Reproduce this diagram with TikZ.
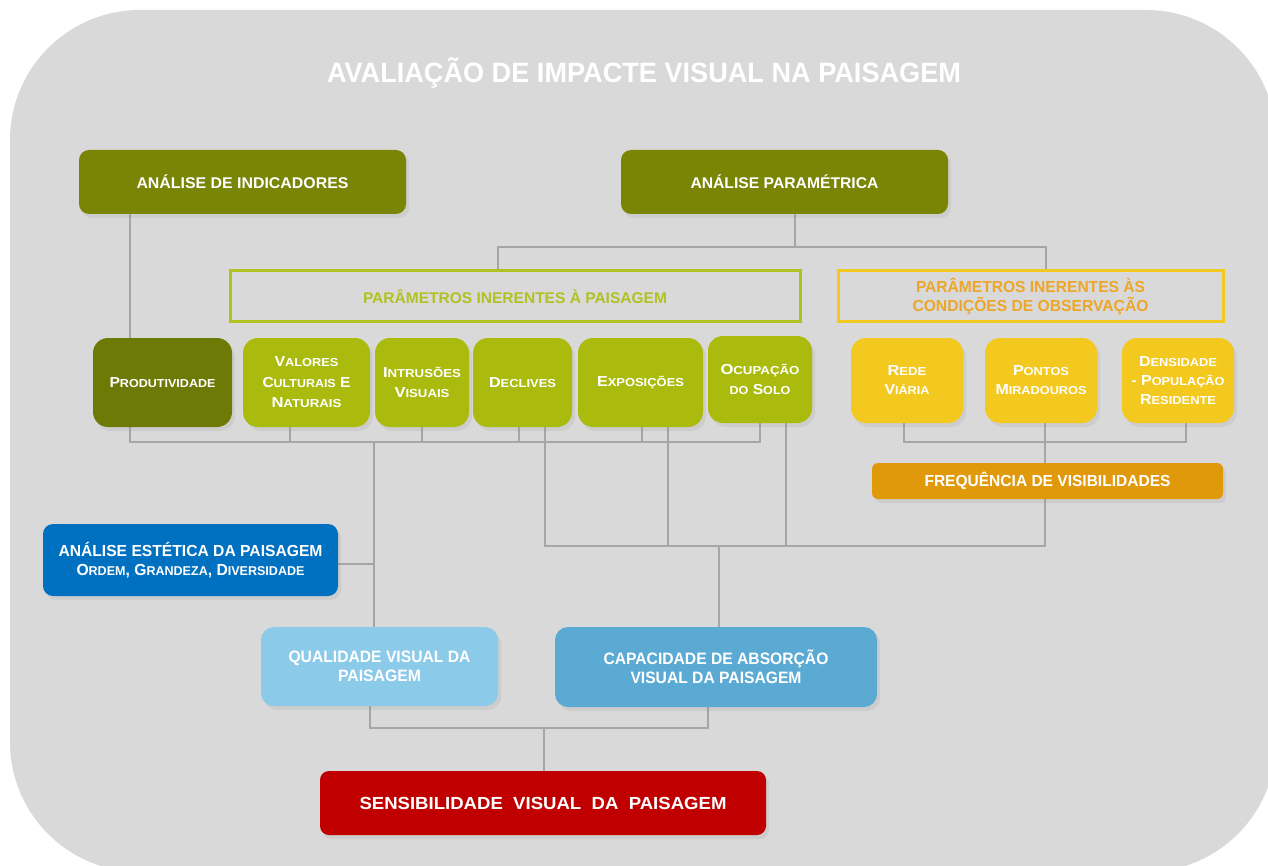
\documentclass[tikz,border=0pt]{standalone}
\usepackage{fontspec}
\setmainfont{Liberation Sans}
\usetikzlibrary{shadows}
\pgfdeclarelayer{bg}
\pgfsetlayers{bg,main}

\definecolor{cBack}{HTML}{D9D9D9}
\definecolor{cOlive}{HTML}{7A8506}
\definecolor{cDarkOlive}{HTML}{6E7A06}
\definecolor{cLime}{HTML}{AABB0D}
\definecolor{cLimeLine}{HTML}{B0C222}
\definecolor{cSun}{HTML}{F3C81F}
\definecolor{cSunText}{HTML}{ECA62A}
\definecolor{cAmber}{HTML}{E0990A}
\definecolor{cRoyal}{HTML}{0070C0}
\definecolor{cSky}{HTML}{8BCAE8}
\definecolor{cSteel}{HTML}{5BAAD3}
\definecolor{cCrimson}{HTML}{C00000}
\definecolor{cWire}{HTML}{A6A6A6}

% stretch or squeeze one line of text horizontally to a given width (pt)
\newsavebox\fitbox
\newcommand\fitto[2]{\sbox\fitbox{#2}\pgfmathsetmacro\fitratio{#1/\wd\fitbox}\scalebox{\fitratio}[1]{\usebox\fitbox}}
% small capitals imitation
\newcommand\smc[1]{\scalebox{0.8}{#1}}

\tikzset{
  base/.style={inner sep=0pt, align=center, text=white},
  shade/.style={drop shadow={opacity=0.13, shadow xshift=3pt, shadow yshift=-4pt}},
  topbox/.style={base, shade, fill=cOlive, rounded corners=10pt,
    font=\fontsize{15.5}{19}\selectfont\bfseries},
  framebox/.style={base, line width=3pt, font=\fontsize{15.5}{19}\selectfont\bfseries},
  rowbox/.style={base, shade, rounded corners=15pt,
    font=\fontsize{14.5}{20.5}\selectfont\bfseries},
  greenbox/.style={rowbox, fill=cLime},
  yellowbox/.style={rowbox, fill=cSun},
  wire/.style={draw=cWire, line width=2.6pt},
}

\begin{document}
\begin{tikzpicture}[x=1pt,y=-1pt]
\useasboundingbox (0,0) rectangle (1268,866);

\begin{pgfonlayer}{bg}
  \clip (0,0) rectangle (1268,866);
  \fill[cBack, rounded corners=130pt] (10,10) rectangle (1276,872);
\end{pgfonlayer}

% title
\node[base, font=\fontsize{28}{32}\selectfont\bfseries] (title) at (644,73)
  {\fitto{634}{AVALIAÇÃO DE IMPACTE VISUAL NA PAISAGEM}};

% top level analyses
\node[topbox, minimum width=327pt, minimum height=64pt] (A) at (242.5,182)
  {\fitto{212}{ANÁLISE DE INDICADORES}};
\node[topbox, minimum width=327pt, minimum height=64pt] (B) at (784.5,182)
  {\fitto{188}{ANÁLISE PARAMÉTRICA}};

% parameter groups
\node[framebox, draw=cLimeLine, text=cLimeLine, minimum width=570pt, minimum height=51pt] (P3) at (515,296.5)
  {\fitto{304}{PARÂMETROS INERENTES À PAISAGEM}};
\node[framebox, draw=cSun, text=cSunText, minimum width=385pt, minimum height=51pt,
  font=\fontsize{16}{19}\selectfont\bfseries] (P4) at (1030.5,296.5)
  {\fitto{229}{PARÂMETROS INERENTES ÀS}\\\fitto{236}{CONDIÇÕES DE OBSERVAÇÃO}};

% landscape parameters
\node[rowbox, fill=cDarkOlive, minimum width=139pt, minimum height=89pt] (prod) at (162.5,382.5)
  {\fitto{106}{P\smc{RODUTIVIDADE}}};
\node[greenbox, minimum width=127pt, minimum height=89pt] (val) at (306.5,382.5)
  {\fitto{64}{V\smc{ALORES}}\\\fitto{88}{C\smc{ULTURAIS} E}\\\fitto{70}{N\smc{ATURAIS}}};
\node[greenbox, minimum width=94pt, minimum height=89pt] (intr) at (422,382.5)
  {\fitto{78}{I\smc{NTRUSÕES}}\\\fitto{55}{V\smc{ISUAIS}}};
\node[greenbox, minimum width=99pt, minimum height=89pt] (decl) at (522.5,382.5)
  {\fitto{67}{D\smc{ECLIVES}}};
\node[greenbox, minimum width=125pt, minimum height=89pt] (expo) at (640.5,382.5)
  {\fitto{87}{E\smc{XPOSIÇÕES}}};
\node[greenbox, minimum width=104pt, minimum height=87pt] (ocup) at (760,379.5)
  {\fitto{79}{O\smc{CUPAÇÃO}}\\\fitto{61}{\smc{DO} S\smc{OLO}}};

% observation parameters
\node[yellowbox, minimum width=112pt, minimum height=85pt] (rede) at (907,380.5)
  {\fitto{39}{R\smc{EDE}}\\[-1.5pt]\fitto{45}{V\smc{IÁRIA}}};
\node[yellowbox, minimum width=112pt, minimum height=85pt] (pont) at (1041,380.5)
  {\fitto{56}{P\smc{ONTOS}}\\[-1.5pt]\fitto{91}{M\smc{IRADOUROS}}};
\node[yellowbox, minimum width=112pt, minimum height=85pt] (dens) at (1178,380.5)
  {\fitto{78}{D\smc{ENSIDADE}}\\[-1.5pt]\fitto{93}{- P\smc{OPULAÇÃO}}\\[-1.5pt]\fitto{76}{R\smc{ESIDENTE}}};
\node[base, shade, fill=cAmber, rounded corners=6pt, minimum width=351pt, minimum height=36pt,
  font=\fontsize{16}{19}\selectfont\bfseries] (freq) at (1047.5,481)
  {\fitto{246}{FREQUÊNCIA DE VISIBILIDADES}};

% aesthetic analysis
\node[base, shade, fill=cRoyal, rounded corners=10pt, minimum width=295pt, minimum height=72pt,
  font=\fontsize{16}{19.5}\selectfont\bfseries] (este) at (190.5,560)
  {\fitto{264}{ANÁLISE ESTÉTICA DA PAISAGEM}\\\fitto{228}{O\smc{RDEM}, G\smc{RANDEZA}, D\smc{IVERSIDADE}}};

% results
\node[base, shade, fill=cSky, rounded corners=13pt, minimum width=237pt, minimum height=79pt,
  font=\fontsize{16.5}{19}\selectfont\bfseries] (qual) at (379.5,666.5)
  {\fitto{182}{QUALIDADE VISUAL DA}\\\fitto{83}{PAISAGEM}};
\node[base, shade, fill=cSteel, rounded corners=13pt, minimum width=322pt, minimum height=80pt,
  font=\fontsize{16.5}{19}\selectfont\bfseries] (capa) at (716,667)
  {\fitto{225}{CAPACIDADE DE ABSORÇÃO}\\\fitto{171}{VISUAL DA PAISAGEM}};
\node[base, shade, fill=cCrimson, rounded corners=9pt, minimum width=446pt, minimum height=64pt,
  font=\fontsize{17.5}{20}\selectfont\bfseries] (sens) at (543,803)
  {\fitto{367}{SENSIBILIDADE\ \ VISUAL\ \ DA\ \ PAISAGEM}};

% junction points of the connector buses
\coordinate (jtop) at (795,247);
\coordinate (jgreen) at (374,442);
\coordinate (jobs) at (719,546);
\coordinate (jyel) at (1045,442);
\coordinate (jbot) at (544,728);

\begin{pgfonlayer}{bg}
  \draw[wire] (130,0 |- A.south) -- (130,0 |- prod.north);
  \draw[wire] (jtop |- B.south) -- (jtop);
  \draw[wire] (498,0 |- P3.north) -- (498,247) -- (1046,247) -- (1046,0 |- P4.north);
  % landscape parameter bus
  \draw[wire] (130,0 |- prod.south) -- (130,442) -- (760,442) -- (760,0 |- ocup.south);
  \draw[wire] (290,0 |- val.south) -- (290,442);
  \draw[wire] (422,0 |- intr.south) -- (422,442);
  \draw[wire] (519,0 |- decl.south) -- (519,442);
  \draw[wire] (642,0 |- expo.south) -- (642,442);
  \draw[wire] (jgreen) -- (jgreen |- qual.north);
  \draw[wire] (este.east |- 0,564) -- (374,564);
  % observation bus
  \draw[wire] (904,0 |- rede.south) -- (904,442) -- (1186,442) -- (1186,0 |- dens.south);
  \draw[wire] (jyel |- pont.south) -- (jyel |- freq.north);
  \draw[wire] (545,0 |- decl.south) -- (545,546) -- (1045,546) -- (1045,0 |- freq.south);
  \draw[wire] (668,0 |- expo.south) -- (668,546);
  \draw[wire] (786,0 |- ocup.south) -- (786,546);
  \draw[wire] (jobs) -- (jobs |- capa.north);
  % results bus
  \draw[wire] (370,0 |- qual.south) -- (370,728) -- (708,728) -- (708,0 |- capa.south);
  \draw[wire] (jbot) -- (jbot |- sens.north);
\end{pgfonlayer}
\end{tikzpicture}
\end{document}
